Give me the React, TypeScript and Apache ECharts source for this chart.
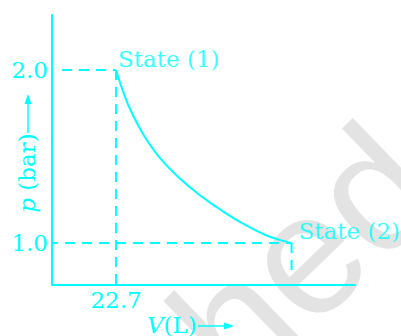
import React, { useEffect, useRef } from "react";
import * as echarts from "echarts";

// Data
const curveV = [22.7, 23.48, 24.34, 25.64, 26.93, 28.65, 30.81, 33.18, 35.38, 37.84, 40.03, 42.19, 44.3, 45.4];
const curveP = [2.0, 1.892, 1.792, 1.673, 1.578, 1.477, 1.379, 1.289, 1.217, 1.145, 1.09, 1.043, 1.012, 1.0];
const stateV = [22.7, 45.4];
const stateP = [2.0, 1.0];
const stateLabels = ["State (1)", "State (2)"];
const yTickValues = [1.0, 2.0];
const xTickValues = [22.7];
const xRange = [14.42, 53.6];
const yRange = [0.757, 2.318];
// guide (dashed) lines: [fromV, fromP, toV, toP]
const guideP2 = [15.7, 2.0, 22.7, 2.0];
const guideV1 = [22.7, 2.0, 22.7, 0.745];
const guideP1 = [13.9, 1.0, 45.4, 1.0];
const guideV2 = [45.4, 1.0, 45.4, 0.805];

const CYAN = "#00FFFF";
const SERIF = "DejaVu Serif";
const FS = 23;

function guideSeries(g: number[]) {
  return {
    type: "line",
    data: [
      [g[0], g[1]],
      [g[2], g[3]],
    ],
    symbol: "none",
    clip: false,
    silent: true,
    lineStyle: { color: CYAN, width: 2, type: [10, 7] },
    z: 3,
  };
}

export default function App() {
  const ref = useRef<HTMLDivElement>(null);
  useEffect(() => {
    if (!ref.current) return;
    const chart = echarts.init(ref.current, null, { renderer: "svg" });
    const option: any = {
      animation: false,
      backgroundColor: "#ffffff",
      grid: { left: 52, right: 46, top: 15, bottom: 51, containLabel: false },
      xAxis: {
        type: "value",
        min: xRange[0],
        max: xRange[1],
        splitLine: { show: false },
        axisTick: { show: false },
        axisLine: { show: true, onZero: false, lineStyle: { color: CYAN, width: 2 } },
        axisLabel: {
          customValues: xTickValues,
          formatter: (v: number) => v.toFixed(1),
          color: CYAN,
          fontFamily: SERIF,
          fontSize: FS,
          margin: 3,
        },
      },
      yAxis: {
        type: "value",
        min: yRange[0],
        max: yRange[1],
        splitLine: { show: false },
        axisTick: { show: false },
        axisLine: { show: true, onZero: false, lineStyle: { color: CYAN, width: 2 } },
        axisLabel: {
          customValues: yTickValues,
          formatter: (v: number) => v.toFixed(1),
          color: CYAN,
          fontFamily: SERIF,
          fontSize: FS,
          margin: 4,
        },
      },
      graphic: [
        {
          type: "text",
          x: 303,
          y: 256,
          rotation: (44 * Math.PI) / 180,
          z: -10,
          silent: true,
          style: {
            text: "hed",
            fontFamily: "Liberation Sans",
            fontSize: 172,
            fill: "#e3e3e3",
            align: "center",
            verticalAlign: "middle",
          },
        },
        {
          type: "text",
          x: 27,
          y: 173,
          rotation: Math.PI / 2,
          style: {
            text: "{i|p} (bar)",
            fontFamily: SERIF,
            fontSize: FS,
            fill: CYAN,
            align: "center",
            verticalAlign: "middle",
            rich: {
              i: { fontStyle: "italic", fontFamily: SERIF, fontSize: FS, fill: CYAN },
            },
          },
        },
        {
          type: "line",
          shape: { x1: 28, y1: 133, x2: 28, y2: 100 },
          style: { stroke: CYAN, lineWidth: 1.5 },
        },
        {
          type: "polygon",
          shape: { points: [[28, 94], [24.5, 104], [31.5, 104]] },
          style: { fill: CYAN },
        },
        {
          type: "text",
          x: 147,
          y: 325,
          style: {
            text: "{i|V}(L)",
            fontFamily: SERIF,
            fontSize: FS,
            fill: CYAN,
            align: "left",
            verticalAlign: "middle",
            rich: {
              i: { fontStyle: "italic", fontFamily: SERIF, fontSize: FS, fill: CYAN },
            },
          },
        },
        {
          type: "line",
          shape: { x1: 198, y1: 326, x2: 227, y2: 326 },
          style: { stroke: CYAN, lineWidth: 1.5 },
        },
        {
          type: "polygon",
          shape: { points: [[234, 326], [224, 322.5], [224, 329.5]] },
          style: { fill: CYAN },
        },
      ],
      series: [
        guideSeries(guideP2),
        guideSeries(guideV1),
        guideSeries(guideP1),
        guideSeries(guideV2),
        {
          type: "line",
          data: curveV.map((v, i) => [v, curveP[i]]),
          smooth: 0.25,
          symbol: "none",
          clip: false,
          lineStyle: { color: CYAN, width: 2 },
          z: 4,
        },
        {
          type: "scatter",
          data: stateV.map((v, i) => ({
            value: [v, stateP[i]],
            label: {
              show: true,
              formatter: stateLabels[i],
              position: i === 0 ? [2, 0] : [7, 0],
              align: "left",
              verticalAlign: "bottom",
              color: CYAN,
              fontFamily: SERIF,
              fontSize: FS,
            },
          })),
          symbolSize: 0,
          clip: false,
          z: 5,
        },
      ],
    };
    chart.setOption(option);
    return () => chart.dispose();
  }, []);
  return (
    <div
      ref={ref}
      style={{ position: "absolute", left: 0, top: 0, width: 401, height: 336 }}
    />
  );
}
